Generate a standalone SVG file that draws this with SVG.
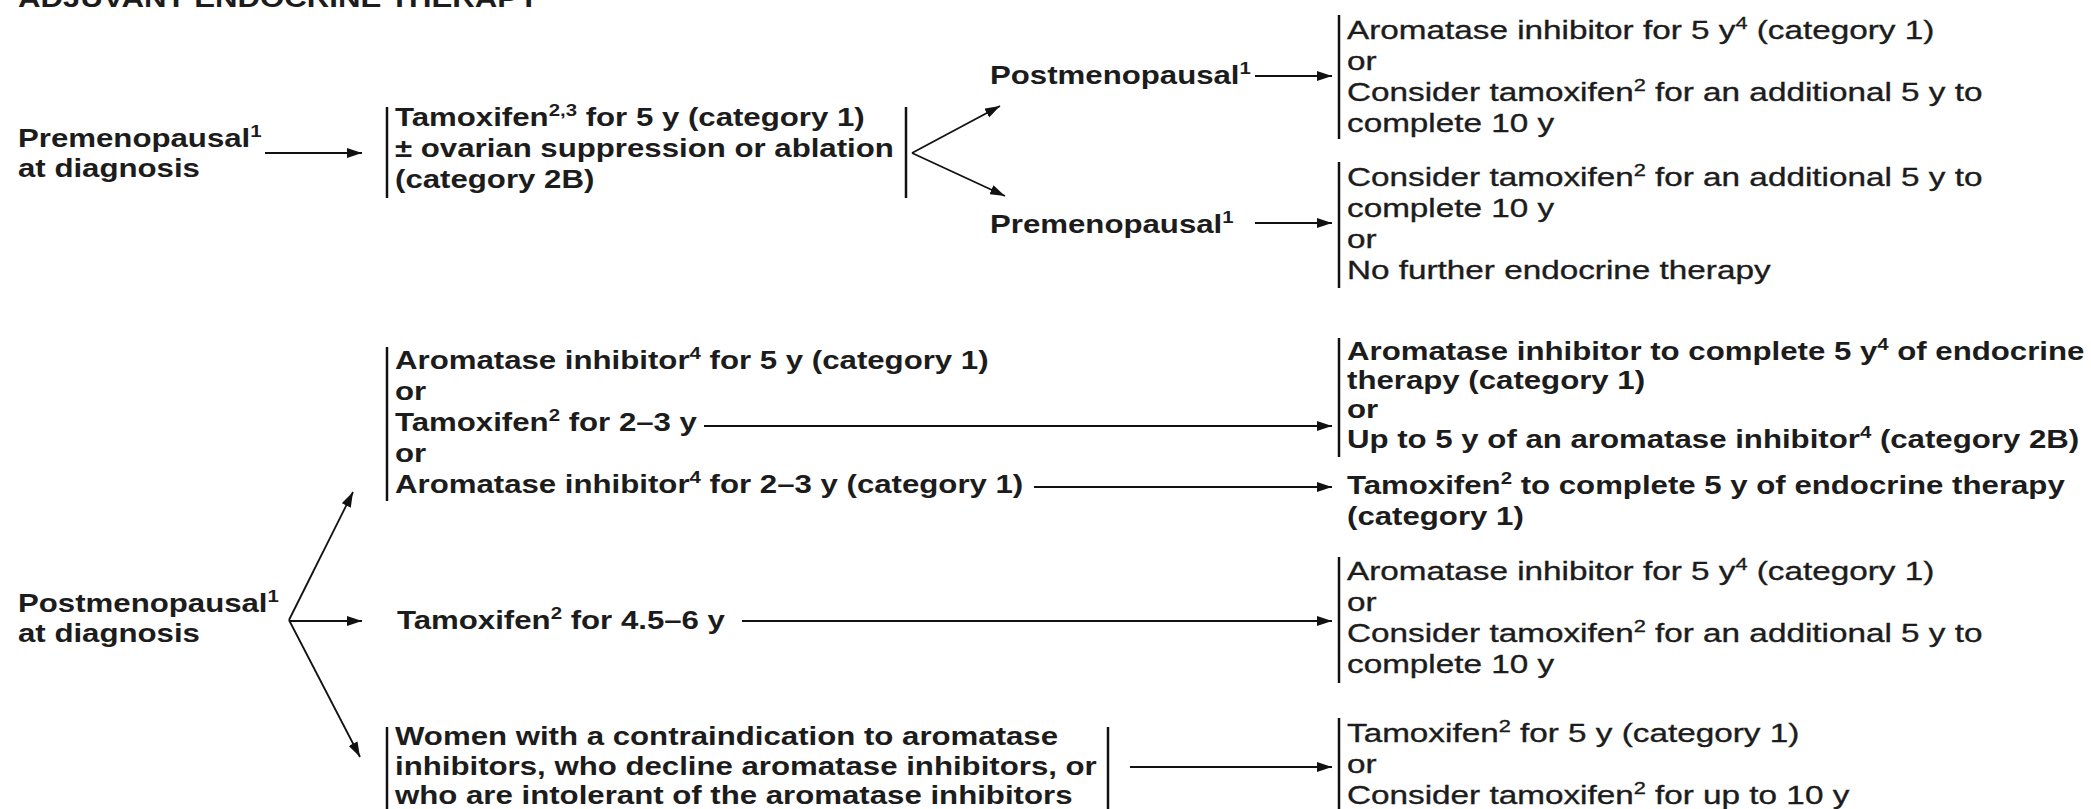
<svg xmlns="http://www.w3.org/2000/svg" width="2091" height="809" viewBox="0 0 2091 809">
<defs>
<style>
text{font-family:"Liberation Sans",Arial,sans-serif;font-size:26px;fill:#1c1c1c}
.b{font-weight:bold}
.r{font-weight:normal;stroke:#1c1c1c;stroke-width:0.35}
.s{font-size:17px}
.bar{stroke:#111;stroke-width:2.5;fill:none}
.ln{stroke:#111;stroke-width:1.8;fill:none;marker-end:url(#ah)}
</style>
<marker id="ah" markerWidth="15" markerHeight="10" refX="15" refY="5" orient="auto" markerUnits="userSpaceOnUse"><path d="M0,0 L15,5 L0,10 Z" fill="#111"/></marker>
</defs>
<rect width="2091" height="809" fill="#fff"/>

<g id="title" transform="translate(18 0) scale(1.2 1)"><text class="b" y="7">ADJUVANT ENDOCRINE THERAPY</text></g>

<!-- Section 1 -->
<g id="pre-dx" transform="translate(18 0) scale(1.2 1)">
<text class="b" y="147">Premenopausal<tspan class="s" dy="-10">1</tspan></text>
<text class="b" y="177">at diagnosis</text>
</g>
<g id="tam5">
<line class="bar" x1="387" y1="107" x2="387" y2="198"/>
<line class="bar" x1="906" y1="107" x2="906" y2="198"/>
<g transform="translate(395 0) scale(1.2 1)">
<text class="b" y="126">Tamoxifen<tspan class="s" dy="-10">2,3</tspan><tspan dy="10"> for 5 y (category 1)</tspan></text>
<text class="b" y="157">± ovarian suppression or ablation</text>
<text class="b" y="188">(category 2B)</text>
</g>
</g>
<g id="post-1" transform="translate(990 0) scale(1.2 1)"><text class="b" y="84">Postmenopausal<tspan class="s" dy="-10">1</tspan></text></g>
<g id="pre-1" transform="translate(990 0) scale(1.2 1)"><text class="b" y="233">Premenopausal<tspan class="s" dy="-10">1</tspan></text></g>
<g id="opt-post">
<line class="bar" x1="1339" y1="15" x2="1339" y2="139"/>
<g transform="translate(1347 0) scale(1.28 1)">
<text class="r" y="39">Aromatase inhibitor for 5 y<tspan class="s" dy="-10">4</tspan><tspan dy="10"> (category 1)</tspan></text>
<text class="r" y="70">or</text>
<text class="r" y="101">Consider tamoxifen<tspan class="s" dy="-10">2</tspan><tspan dy="10"> for an additional 5 y to</tspan></text>
<text class="r" y="132">complete 10 y</text>
</g>
</g>
<g id="opt-pre">
<line class="bar" x1="1339" y1="162" x2="1339" y2="288"/>
<g transform="translate(1347 0) scale(1.28 1)">
<text class="r" y="186">Consider tamoxifen<tspan class="s" dy="-10">2</tspan><tspan dy="10"> for an additional 5 y to</tspan></text>
<text class="r" y="217">complete 10 y</text>
<text class="r" y="248">or</text>
<text class="r" y="279">No further endocrine therapy</text>
</g>
</g>

<!-- Section 2 -->
<g id="post-dx" transform="translate(18 0) scale(1.2 1)">
<text class="b" y="612">Postmenopausal<tspan class="s" dy="-10">1</tspan></text>
<text class="b" y="642">at diagnosis</text>
</g>
<g id="ai-tam">
<line class="bar" x1="387" y1="347" x2="387" y2="501"/>
<g transform="translate(395 0) scale(1.2 1)">
<text class="b" y="369">Aromatase inhibitor<tspan class="s" dy="-10">4</tspan><tspan dy="10"> for 5 y (category 1)</tspan></text>
<text class="b" y="400">or</text>
<text class="b" y="431">Tamoxifen<tspan class="s" dy="-10">2</tspan><tspan dy="10"> for 2–3 y</tspan></text>
<text class="b" y="462">or</text>
<text class="b" y="493">Aromatase inhibitor<tspan class="s" dy="-10">4</tspan><tspan dy="10"> for 2–3 y (category 1)</tspan></text>
</g>
</g>
<g id="tam456" transform="translate(397 0) scale(1.2 1)"><text class="b" y="629">Tamoxifen<tspan class="s" dy="-10">2</tspan><tspan dy="10"> for 4.5–6 y</tspan></text></g>
<g id="women">
<line class="bar" x1="387" y1="727" x2="387" y2="812"/>
<line class="bar" x1="1108" y1="727" x2="1108" y2="812"/>
<g transform="translate(395 0) scale(1.2 1)">
<text class="b" y="745">Women with a contraindication to aromatase</text>
<text class="b" y="775">inhibitors, who decline aromatase inhibitors, or</text>
<text class="b" y="804">who are intolerant of the aromatase inhibitors</text>
</g>
</g>
<g id="opt-ai">
<line class="bar" x1="1339" y1="338" x2="1339" y2="457"/>
<g transform="translate(1347 0) scale(1.2 1)">
<text class="b" y="360">Aromatase inhibitor to complete 5 y<tspan class="s" dy="-10">4</tspan><tspan dy="10"> of endocrine</tspan></text>
<text class="b" y="389">therapy (category 1)</text>
<text class="b" y="418">or</text>
<text class="b" y="448">Up to 5 y of an aromatase inhibitor<tspan class="s" dy="-10">4</tspan><tspan dy="10"> (category 2B)</tspan></text>
</g>
</g>
<g id="opt-tam" transform="translate(1347 0) scale(1.2 1)">
<text class="b" y="494">Tamoxifen<tspan class="s" dy="-10">2</tspan><tspan dy="10"> to complete 5 y of endocrine therapy</tspan></text>
<text class="b" y="525">(category 1)</text>
</g>
<g id="opt-after-tam">
<line class="bar" x1="1339" y1="557" x2="1339" y2="683"/>
<g transform="translate(1347 0) scale(1.28 1)">
<text class="r" y="580">Aromatase inhibitor for 5 y<tspan class="s" dy="-10">4</tspan><tspan dy="10"> (category 1)</tspan></text>
<text class="r" y="611">or</text>
<text class="r" y="642">Consider tamoxifen<tspan class="s" dy="-10">2</tspan><tspan dy="10"> for an additional 5 y to</tspan></text>
<text class="r" y="673">complete 10 y</text>
</g>
</g>
<g id="opt-women">
<line class="bar" x1="1339" y1="718" x2="1339" y2="812"/>
<g transform="translate(1347 0) scale(1.28 1)">
<text class="r" y="742">Tamoxifen<tspan class="s" dy="-10">2</tspan><tspan dy="10"> for 5 y (category 1)</tspan></text>
<text class="r" y="773">or</text>
<text class="r" y="804">Consider tamoxifen<tspan class="s" dy="-10">2</tspan><tspan dy="10"> for up to 10 y</tspan></text>
</g>
</g>

<g id="connectors">
<line class="ln" x1="265" y1="153" x2="362" y2="153"/>
<line class="ln" x1="912" y1="153" x2="1000" y2="106"/>
<line class="ln" x1="912" y1="153" x2="1005" y2="196"/>
<line class="ln" x1="1255" y1="76" x2="1332" y2="76"/>
<line class="ln" x1="1255" y1="223" x2="1332" y2="223"/>
<line class="ln" x1="289" y1="620" x2="353" y2="492"/>
<line class="ln" x1="289" y1="621" x2="362" y2="621"/>
<line class="ln" x1="289" y1="620" x2="360" y2="757"/>
<line class="ln" x1="704" y1="426" x2="1332" y2="426"/>
<line class="ln" x1="1034" y1="487" x2="1332" y2="487"/>
<line class="ln" x1="742" y1="621" x2="1332" y2="621"/>
<line class="ln" x1="1130" y1="767" x2="1332" y2="767"/>
</g>
</svg>
